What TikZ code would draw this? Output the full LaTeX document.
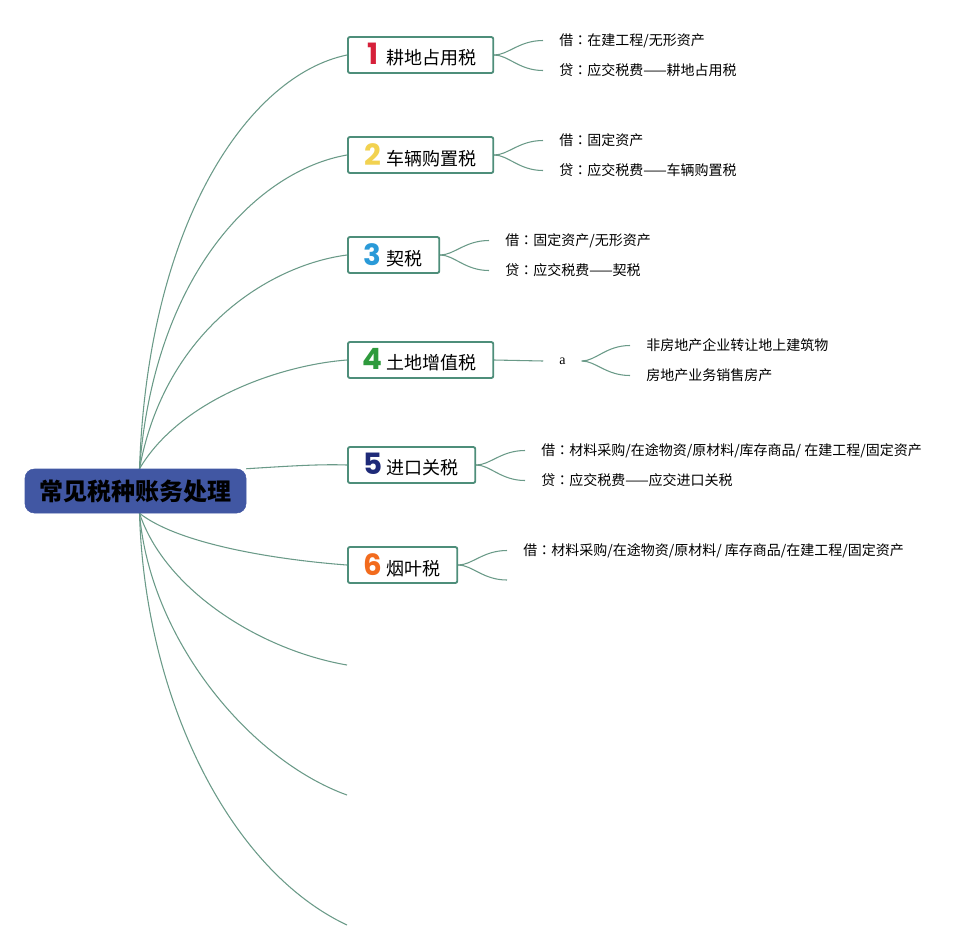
\documentclass[tikz,border=0pt]{standalone}
\usepackage{fontspec}
\usepackage{tikz}
\usepackage{xcolor}
\usetikzlibrary{positioning, calc, backgrounds}
\setmainfont{Noto Sans CJK SC}
\newfontfamily\numfont{Poppins}
\newfontfamily\serifa{Liberation Serif}
\newfontfamily\jpcolon{Noto Sans CJK JP}
\definecolor{rootblue}{HTML}{4157A3}
\definecolor{boxgreen}{HTML}{4E8E7A}
\definecolor{linegreen}{HTML}{6A9A88}
\definecolor{numred}{HTML}{D6203A}
\definecolor{numyellow}{HTML}{F2D250}
\definecolor{numblue}{HTML}{2A9AD8}
\definecolor{numgreen}{HTML}{2E9A3C}
\definecolor{numnavy}{HTML}{1E2A78}
\definecolor{numorange}{HTML}{F26B1D}
\tikzstyle{root} = [rectangle, rounded corners=7pt,
fill=rootblue, draw=rootblue,
minimum width=165.75pt,
minimum height=33pt,
text centered,
font=\fontsize{18}{20}\selectfont\bfseries]
\tikzstyle{taxbox} = [rectangle, rounded corners=1.5pt,
draw=boxgreen, line width=1.4pt, fill=white,
anchor=west,
minimum height=27pt,
inner xsep=12.5pt,
font=\fontsize{13.5}{15}\selectfont]
\tikzstyle{leaf} = [anchor=west, inner xsep=12pt, inner ysep=1pt,
font=\fontsize{10.5}{12}\selectfont]
\tikzstyle{branch} = [draw=linegreen, line width=0.8pt]
\newcommand{\taxnum}[2]{\makebox[12pt][c]{\numfont\bfseries\fontsize{22}{22}\selectfont\color{#1}#2}\hspace{4.5pt}}
\newcommand{\cnc}{{\jpcolon ：}}

\begin{document}
\begin{tikzpicture}[x=0.75pt, y=-0.75pt]
        \useasboundingbox (0,0) rectangle (974,951);
        % Nodo central
        \node (root) [root] at (135.5,491) {常见税种账务处理};
        \coordinate (rtop) at ($(root.north)+(4,0)$);
        \coordinate (rbot) at ($(root.south)+(4,0)$);

        % Impuestos
        \node (t1) [taxbox] at (347,55) {\taxnum{numred}{1}耕地占用税};
        \node (t2) [taxbox] at (347,155) {\taxnum{numyellow}{2}车辆购置税};
        \node (t3) [taxbox] at (347,255) {\taxnum{numblue}{3}契税};
        \node (t4) [taxbox] at (347,360) {\taxnum{numgreen}{4}土地增值税};
        \node (t5) [taxbox] at (347,465) {\taxnum{numnavy}{5}进口关税};
        \node (t6) [taxbox] at (347,565) {\taxnum{numorange}{6}烟叶税};
        \coordinate (e7) at (347,665);
        \coordinate (e8) at (347,795);
        \coordinate (e9) at (347,925);

        % Asientos
        \node (t1a) [leaf] at (543,40.5) {借\cnc 在建工程/无形资产};
        \node (t1b) [leaf] at (543,70.5) {贷\cnc 应交税费——耕地占用税};
        \node (t2a) [leaf] at (543,140.5) {借\cnc 固定资产};
        \node (t2b) [leaf] at (543,170.5) {贷\cnc 应交税费——车辆购置税};
        \node (t3a) [leaf] at (489,240.5) {借\cnc 固定资产/无形资产};
        \node (t3b) [leaf] at (489,270.5) {贷\cnc 应交税费——契税};
        \node (t4x) [minimum width=28.5pt, inner xsep=0pt, font=\serifa\fontsize{10.5}{12}\selectfont] at (562.5,361) {a};
        \node (t4a) [leaf] at (630,345.5) {非房地产企业转让地上建筑物};
        \node (t4b) [leaf] at (630,375.5) {房地产业务销售房产};
        \node (t5a) [leaf] at (525,450.5) {借\cnc 材料采购/在途物资/原材料/库存商品/ 在建工程/固定资产};
        \node (t5b) [leaf] at (525,480.5) {贷\cnc 应交税费——应交进口关税};
        \node (t6a) [leaf] at (507,550.5) {借\cnc 材料采购/在途物资/原材料/ 库存商品/在建工程/固定资产};
        \coordinate (t6b) at (507,580);

        % --- CONEXIONES ---
        \begin{scope}[on background layer]
        \draw [branch] (rtop) .. controls (148,220) and (250,75) .. (t1.west);
        \draw [branch] (rtop) .. controls (155,270) and (260,170) .. (t2.west);
        \draw [branch] (rtop) .. controls (165,330) and (270,265) .. (t3.west);
        \draw [branch] (rtop) .. controls (180,400) and (280,365) .. (t4.west);
        \draw [branch] (root.north east) .. controls (290,466) and (320,464) .. (t5.west);
        \draw [branch] (rbot) .. controls (180,545) and (280,560) .. (t6.west);
        \draw [branch] (rbot) .. controls (165,590) and (260,650) .. (e7);
        \draw [branch] (rbot) .. controls (150,640) and (250,760) .. (e8);
        \draw [branch] (rbot) .. controls (145,700) and (230,870) .. (e9);

        % Ramas hacia los asientos
        \draw [branch] (t1.east) .. controls +(14,0) and +(-24,0) .. (t1a.west);
        \draw [branch] (t1.east) .. controls +(14,0) and +(-24,0) .. (t1b.west);
        \draw [branch] (t2.east) .. controls +(14,0) and +(-24,0) .. (t2a.west);
        \draw [branch] (t2.east) .. controls +(14,0) and +(-24,0) .. (t2b.west);
        \draw [branch] (t3.east) .. controls +(14,0) and +(-24,0) .. (t3a.west);
        \draw [branch] (t3.east) .. controls +(14,0) and +(-24,0) .. (t3b.west);
        \draw [branch] (t4.east) -- (t4x.west);
        \draw [branch] (t4x.east) .. controls +(14,0) and +(-24,0) .. (t4a.west);
        \draw [branch] (t4x.east) .. controls +(14,0) and +(-24,0) .. (t4b.west);
        \draw [branch] (t5.east) .. controls +(14,0) and +(-24,0) .. (t5a.west);
        \draw [branch] (t5.east) .. controls +(14,0) and +(-24,0) .. (t5b.west);
        \draw [branch] (t6.east) .. controls +(14,0) and +(-24,0) .. (t6a.west);
        \draw [branch] (t6.east) .. controls +(14,0) and +(-24,0) .. (t6b);
        \end{scope}

    \end{tikzpicture}
\end{document}
